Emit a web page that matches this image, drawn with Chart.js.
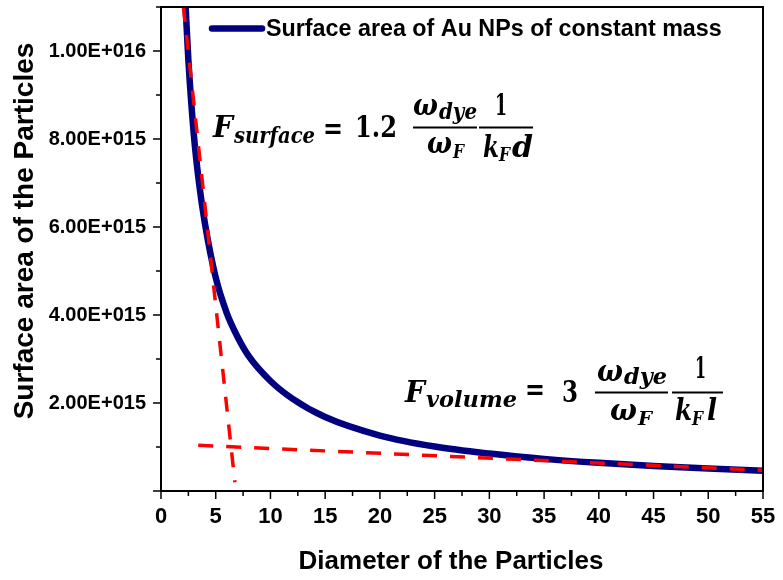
<!DOCTYPE html>
<html>
<head>
<meta charset="utf-8">
<script src="https://cdn.jsdelivr.net/npm/chart.js@4.4.0/dist/chart.umd.min.js"></script>
<style>
  html, body { margin: 0; padding: 0; background: #fff; }
  #wrap { width: 783px; height: 580px; }
</style>
</head>
<body>
<div id="wrap"><canvas id="chart" width="783" height="580"></canvas></div>
<script>
// curve: surface area vs diameter
const diameters = [2, 2.5, 3, 3.5, 4, 5, 6, 7, 8, 10, 12, 15, 20, 25, 30, 35, 40, 45, 50, 55];
const surfaceArea = [12.2e15, 9.8e15, 8.1e15, 6.95e15, 6.1e15, 4.85e15, 4.05e15, 3.5e15, 3.07e15, 2.5e15,
  2.1e15, 1.68e15, 1.26e15, 1.01e15, 0.85e15, 0.73e15, 0.64e15, 0.57e15, 0.51e15, 0.46e15];

// red dashed asymptote lines
const surfaceFitX = [2.05, 6.75];
const surfaceFitY = [11.0e15, 0.2e15];
const volumeFitX = [3.4, 55];
const volumeFitY = [1.04e15, 0.47e15];

const legendLabel = 'Surface area of Au NPs of constant mass';
const xTitle = 'Diameter of the Particles';
const yTitle = 'Surface area of the Particles';

const SANS = "'Liberation Sans', Arial, sans-serif";
const SERIF = "'DejaVu Serif', 'Liberation Serif', serif";

const toPts = (xs, ys) => xs.map((x, i) => ({ x: x, y: ys[i] }));

function sci(v) {
  const [m, e] = v.toExponential(2).split('e');
  const n = parseInt(e, 10);
  return m + 'E' + (n < 0 ? '-' : '+') + String(Math.abs(n)).padStart(3, '0');
}

// draw a text piece stretched to span x0..x1
function piece(ctx, text, x0, x1, base, font) {
  ctx.font = font;
  const w = ctx.measureText(text).width;
  ctx.save();
  ctx.translate(x0, base);
  ctx.scale((x1 - x0) / w, 1);
  ctx.fillText(text, 0, 0);
  ctx.restore();
}
function bar(ctx, x0, x1, y) {
  ctx.beginPath(); ctx.moveTo(x0, y); ctx.lineTo(x1, y); ctx.stroke();
}

const decorations = {
  id: 'decorations',
  afterDraw(chart) {
    const { ctx, chartArea: a, scales } = chart;
    ctx.save();
    // frame
    ctx.strokeStyle = '#000';
    ctx.lineWidth = 2;
    ctx.strokeRect(a.left, a.top, a.right - a.left, a.bottom - a.top);

    // tick marks (major 8px, minor 5px)
    ctx.lineWidth = 1.5;
    scales.x.ticks.forEach(t => {
      const px = scales.x.getPixelForValue(t.value);
      const len = t.value % 5 === 0 ? 8 : 5;
      ctx.beginPath(); ctx.moveTo(px, a.bottom); ctx.lineTo(px, a.bottom + len); ctx.stroke();
    });
    scales.y.ticks.forEach(t => {
      const py = scales.y.getPixelForValue(t.value);
      const len = Math.round(t.value / 1e15) % 2 === 0 ? 8 : 5;
      ctx.beginPath(); ctx.moveTo(a.left, py); ctx.lineTo(a.left - len, py); ctx.stroke();
    });

    // legend
    ctx.strokeStyle = '#000080';
    ctx.lineWidth = 6.5;
    ctx.lineCap = 'round';
    bar(ctx, 212, 262, 28.5);
    ctx.fillStyle = '#000';
    ctx.font = 'bold 23.3px ' + SANS;
    ctx.textBaseline = 'middle';
    ctx.textAlign = 'left';
    ctx.fillText(legendLabel, 266, 29.5);

    // axis titles
    ctx.textBaseline = 'alphabetic';
    ctx.textAlign = 'center';
    ctx.font = 'bold 26px ' + SANS;
    ctx.fillText(xTitle, 451, 569);
    ctx.font = 'bold 28px ' + SANS;
    ctx.save();
    ctx.translate(33, 231);
    ctx.rotate(-Math.PI / 2);
    ctx.fillText(yTitle, 0, 0);
    ctx.restore();

    // formulas
    ctx.textAlign = 'left';
    ctx.lineCap = 'butt';
    ctx.strokeStyle = '#000';
    ctx.lineWidth = 2;
    const bi = s => 'bold italic ' + s + 'px ' + SERIF;
    const b = s => 'bold ' + s + 'px ' + SERIF;
    // F_surface = 1.2 (w_dye / w_F) (1 / k_F d)
    piece(ctx, 'F', 213, 233, 137, bi(30));
    piece(ctx, 'surface', 234, 315, 143, bi(22));
    piece(ctx, '=', 323, 343, 138, b(30));
    piece(ctx, '1.2', 355, 397, 137, b(30));
    piece(ctx, 'ω', 413, 438, 115, bi(30));
    piece(ctx, 'dye', 439, 477, 119, bi(22));
    bar(ctx, 413, 477, 127.5);
    piece(ctx, 'ω', 427, 452, 153, bi(30));
    piece(ctx, 'F', 453, 464, 158, bi(19));
    piece(ctx, '1', 495, 507, 115, b(30));
    bar(ctx, 479, 533, 127.5);
    piece(ctx, 'k', 483, 499, 157, bi(30));
    piece(ctx, 'F', 499, 510, 161, bi(19));
    piece(ctx, 'd', 512, 533, 157, bi(30));
    // F_volume = 3 (w_dye / w_F) (1 / k_F l)
    piece(ctx, 'F', 405, 425, 401.5, bi(30));
    piece(ctx, 'volume', 426, 517, 407, bi(22));
    piece(ctx, '=', 525, 545, 399, b(30));
    piece(ctx, '3', 562, 578, 401.5, b(30));
    piece(ctx, 'ω', 597, 623, 381, bi(30));
    piece(ctx, 'dye', 624, 667, 384, bi(22));
    bar(ctx, 595, 668, 392.5);
    piece(ctx, 'ω', 610, 637, 420, bi(30));
    piece(ctx, 'F', 638, 652, 425, bi(19));
    piece(ctx, '1', 695, 706, 378, b(30));
    bar(ctx, 672, 723, 392.5);
    piece(ctx, 'k', 675, 692, 420, bi(30));
    piece(ctx, 'F', 692, 703, 425, bi(19));
    piece(ctx, 'l', 707, 717, 420, bi(30));
    ctx.restore();
  }
};

new Chart(document.getElementById('chart'), {
  type: 'line',
  data: {
    datasets: [
      { label: 'surface fit', data: toPts(surfaceFitX, surfaceFitY), borderColor: '#ff0000', borderWidth: 3.5,
        borderDash: [15, 13], pointRadius: 0, order: 0 },
      { label: 'volume fit', data: toPts(volumeFitX, volumeFitY), borderColor: '#ff0000', borderWidth: 3.5,
        borderDash: [15, 13], pointRadius: 0, order: 0 },
      { label: legendLabel, data: toPts(diameters, surfaceArea), borderColor: '#000080', borderWidth: 6.5,
        cubicInterpolationMode: 'monotone', pointRadius: 0, order: 1 }
    ]
  },
  options: {
    responsive: false,
    animation: false,
    layout: { autoPadding: false, padding: { top: 7, right: 20, left: 0, bottom: 0 } },
    plugins: { legend: { display: false }, tooltip: { enabled: false } },
    scales: {
      x: {
        type: 'linear', min: 0, max: 55,
        afterFit: s => { s.height = 89; s.paddingLeft = 0; s.paddingRight = 0; },
        grid: { display: true, drawOnChartArea: false, drawTicks: true, tickLength: 8, tickColor: 'transparent' },
        border: { display: false },
        ticks: {
          stepSize: 2.5, autoSkip: false, maxRotation: 0, padding: 5,
          color: '#000', font: { family: SANS, size: 22, weight: 'bold' },
          callback: v => (v % 5 === 0 ? String(v) : '')
        }
      },
      y: {
        min: 0, max: 1.1e16,
        afterFit: s => { s.width = 161; s.paddingTop = 0; s.paddingBottom = 0; },
        grid: { display: true, drawOnChartArea: false, drawTicks: true, tickLength: 8, tickColor: 'transparent' },
        border: { display: false },
        ticks: {
          stepSize: 1e15, autoSkip: false, padding: 7,
          color: '#000', font: { family: SANS, size: 20, weight: 'bold' },
          callback: v => (v > 0 && Math.round(v / 1e15) % 2 === 0 ? sci(v) : '')
        }
      }
    }
  },
  plugins: [decorations]
});
</script>
</body>
</html>
